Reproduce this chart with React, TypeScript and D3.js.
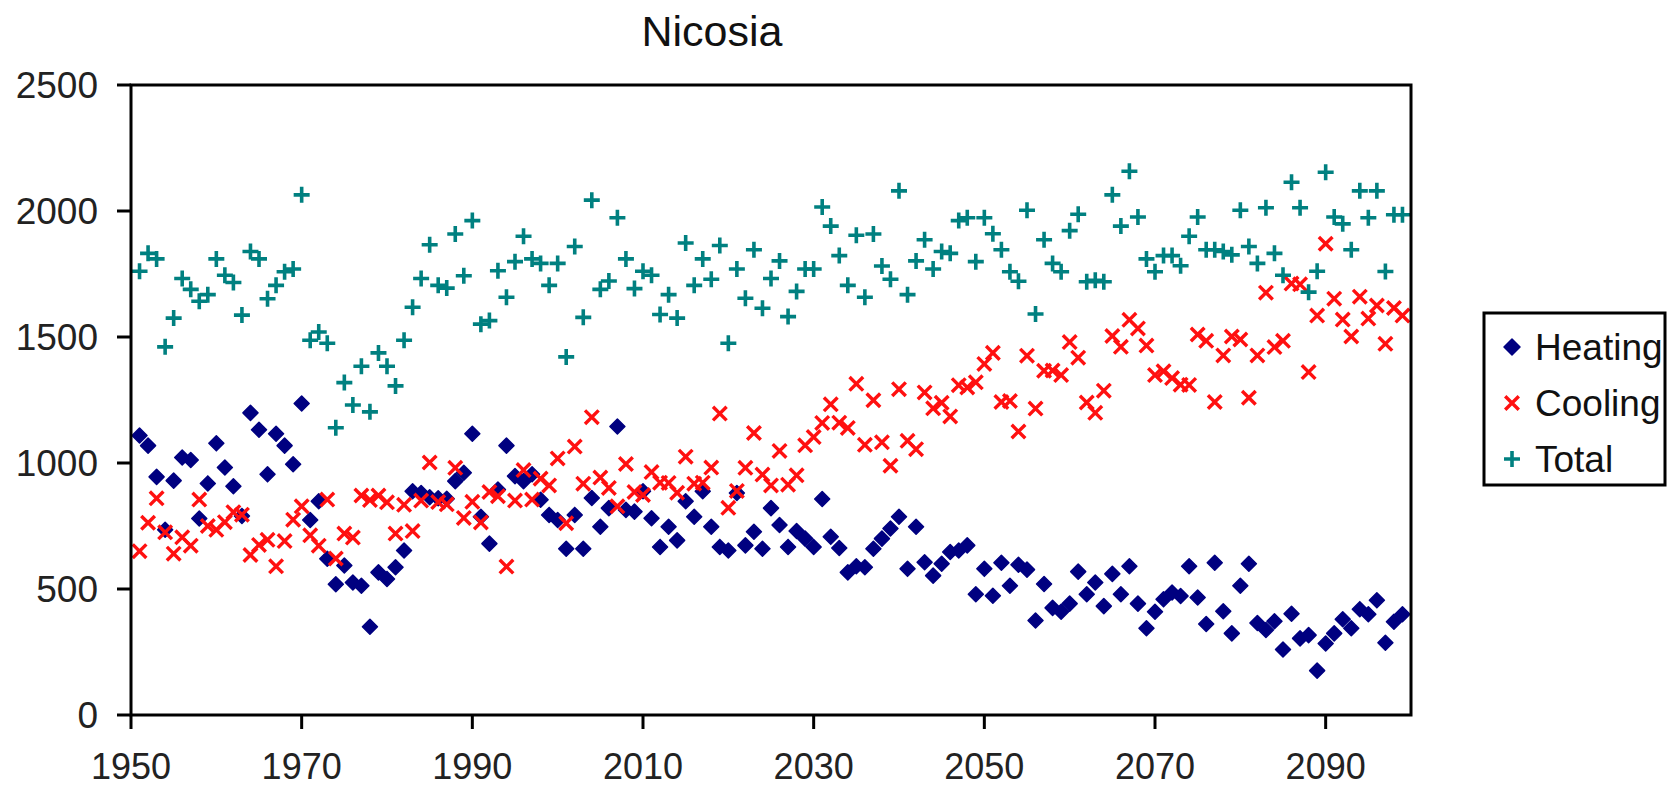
import React from "react";
import * as d3 from "d3";

const firstYear = 1951;
const heating = [
  1109, 1069, 945, 735, 930, 1022, 1012, 780, 919, 1078, 982, 908, 790, 1199, 1132, 955, 1116, 1069, 995,
  1236, 774, 848, 620, 519, 593, 526, 513, 350, 566, 540, 586, 653, 888, 881, 864, 860, 858, 928, 961,
  1116, 787, 680, 895, 1069, 948, 928, 955, 854, 794, 774, 660, 794, 660, 861, 747, 821, 1145, 814, 807,
  888, 781, 667, 747, 693, 848, 787, 888, 747, 667, 653, 881, 673, 727, 660, 821, 754, 667, 730, 700,
  667, 857, 707, 663, 566, 590, 586, 660, 700, 740, 787, 580, 747, 606, 553, 600, 647, 653, 673, 479,
  580, 473, 604, 513, 596, 577, 375, 520, 425, 410, 442, 569, 479, 526, 432, 560, 479, 590, 442, 344,
  410, 459, 486, 472, 590, 466, 361, 604, 412, 324, 513, 600, 365, 337, 372, 260, 402, 304, 317, 176,
  284, 324, 380, 344, 420, 400, 455, 287, 370, 400,
];
const cooling = [
  650, 763, 860, 725, 640, 705, 672, 855, 750, 735, 765, 805, 795, 635, 675, 695, 590, 690, 775,
  828, 713, 672, 855, 621, 720, 704, 871, 853, 871, 844, 720, 834, 730, 851, 1002, 845, 836, 981, 782,
  846, 764, 885, 868, 589, 851, 972, 855, 938, 911, 1018, 761, 1065, 918, 1182, 942, 901, 828, 996, 885,
  873, 964, 922, 921, 882, 1025, 918, 922, 982, 1196, 822, 889, 981, 1119, 954, 911, 1048, 914, 951, 1070,
  1103, 1159, 1233, 1160, 1139, 1314, 1072, 1249, 1082, 989, 1293, 1088, 1055, 1280, 1217, 1239, 1185, 1309, 1300, 1320,
  1393, 1437, 1242, 1246, 1125, 1426, 1216, 1366, 1367, 1349, 1480, 1418, 1240, 1199, 1287, 1504, 1461, 1568, 1534, 1466,
  1349, 1364, 1337, 1311, 1310, 1510, 1485, 1242, 1427, 1502, 1490, 1259, 1427, 1676, 1460, 1485, 1712, 1709, 1361, 1585,
  1870, 1652, 1569, 1502, 1660, 1573, 1625, 1473, 1615, 1585,
];
const total = [
  1761, 1832, 1810, 1461, 1575, 1732, 1689, 1642, 1668, 1810, 1745, 1716, 1587, 1839, 1810, 1652, 1705, 1759, 1770,
  2064, 1487, 1520, 1475, 1140, 1319, 1230, 1384, 1203, 1437, 1384, 1306, 1487, 1618, 1732, 1866, 1705, 1694, 1909, 1743,
  1962, 1551, 1565, 1763, 1658, 1799, 1900, 1810, 1792, 1705, 1792, 1421, 1859, 1578, 2043, 1689, 1722, 1973, 1810, 1692,
  1761, 1745, 1589, 1668, 1575, 1873, 1705, 1810, 1729, 1863, 1475, 1770, 1654, 1846, 1614, 1732, 1802, 1581, 1681, 1770,
  1770, 2016, 1940, 1823, 1705, 1904, 1658, 1909, 1782, 1729, 2080, 1668, 1802, 1886, 1770, 1839, 1832, 1962, 1973, 1799,
  1973, 1910, 1846, 1759, 1721, 2003, 1591, 1886, 1792, 1759, 1922, 1987, 1719, 1725, 1719, 2064, 1940, 2158, 1976, 1810,
  1759, 1823, 1823, 1783, 1900, 1976, 1846, 1846, 1839, 1826, 2003, 1859, 1792, 2013, 1832, 1745, 2114, 2013, 1678, 1761,
  2154, 1976, 1949, 1846, 2080, 1973, 2080, 1760, 1985, 1985,
];
const xTicks = [1950, 1970, 1990, 2010, 2030, 2050, 2070, 2090];
const yTicks = [0, 500, 1000, 1500, 2000, 2500];
const seriesNames = ["Heating", "Cooling", "Total"];

const W = 1671;
const H = 787;
const left = 131;
const right = 1411;
const top = 85;
const bottom = 715;
const font = "'Liberation Sans', Arial, sans-serif";
const navy = "#000080";
const red = "#ff1010";
const teal = "#008080";

function Diamond({ x, y, r }: { x: number; y: number; r: number }) {
  return <path d={`M${x},${y - r}L${x + r},${y}L${x},${y + r}L${x - r},${y}Z`} fill={navy} stroke={navy} strokeWidth={1.5} strokeLinejoin="round" />;
}
function Cross({ x, y, s }: { x: number; y: number; s: number }) {
  return (
    <path d={`M${x - s},${y - s}L${x + s},${y + s}M${x - s},${y + s}L${x + s},${y - s}`} stroke={red} strokeWidth={3.4} fill="none" />
  );
}
function Plus({ x, y, s }: { x: number; y: number; s: number }) {
  return <path d={`M${x - s},${y}L${x + s},${y}M${x},${y - s}L${x},${y + s}`} stroke={teal} strokeWidth={3.6} fill="none" />;
}

export default function App() {
  const xs = d3.scaleLinear().domain([1950, 2100]).range([left, right]);
  const ys = d3.scaleLinear().domain([0, 2500]).range([bottom, top]);
  const yr = (i: number) => firstYear + i;

  const legX = 1484;
  const legY = 313;
  const legW = 181;
  const legH = 172;

  return (
    <svg width={W} height={H} style={{ position: "absolute", left: 0, top: 0, background: "#fff" }} fontFamily={font}>
      <rect width={W} height={H} fill="#fff" />
      <text x={712} y={46} fontSize={43} textAnchor="middle" fill="#111">Nicosia</text>

      {/* data */}
      {heating.map((v, i) => (
        <Diamond key={"h" + i} x={xs(yr(i))} y={ys(v)} r={7.5} />
      ))}
      {cooling.map((v, i) => (
        <Cross key={"c" + i} x={xs(yr(i))} y={ys(v)} s={6.8} />
      ))}
      {total.map((v, i) => (
        <Plus key={"t" + i} x={xs(yr(i))} y={ys(v)} s={8} />
      ))}

      {/* plot frame */}
      <rect x={left} y={top} width={right - left} height={bottom - top} fill="none" stroke="#000" strokeWidth={3} />

      {/* y axis */}
      {yTicks.map((t) => (
        <g key={"y" + t}>
          <line x1={left - 14} x2={left} y1={ys(t)} y2={ys(t)} stroke="#000" strokeWidth={3} />
          <text x={98} y={ys(t)} dy="0.36em" fontSize={37} textAnchor="end" fill="#222">{t}</text>
        </g>
      ))}
      {/* x axis */}
      {xTicks.map((t) => (
        <g key={"x" + t}>
          <line x1={xs(t)} x2={xs(t)} y1={bottom} y2={bottom + 14} stroke="#000" strokeWidth={3} />
          <text x={xs(t)} y={779} fontSize={36} textAnchor="middle" fill="#222">{t}</text>
        </g>
      ))}

      {/* legend */}
      <rect x={legX} y={legY} width={legW} height={legH} fill="#fff" stroke="#000" strokeWidth={3} />
      {seriesNames.map((n, i) => {
        const cy = legY + 34 + i * 56;
        const mx = legX + 28;
        return (
          <g key={n}>
            {i === 0 && <Diamond x={mx} y={cy} r={8} />}
            {i === 1 && <Cross x={mx} y={cy} s={6.8} />}
            {i === 2 && <Plus x={mx} y={cy} s={8} />}
            <text x={legX + 51} y={cy} dy="0.36em" fontSize={37} fill="#111">{n}</text>
          </g>
        );
      })}
    </svg>
  );
}
